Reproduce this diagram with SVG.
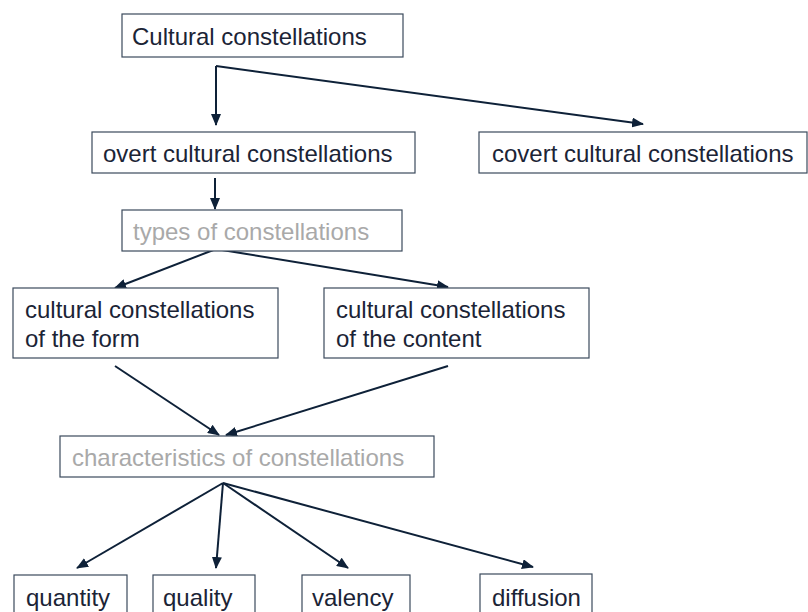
<svg xmlns="http://www.w3.org/2000/svg" width="808" height="612" viewBox="0 0 808 612">
<style>
.box{fill:#ffffff;stroke:#3b4a5c;stroke-width:1.2}
.t{font-family:"Liberation Sans",Arial,sans-serif;font-size:24px;fill:#1b2436}
.g{fill:#a9a9a9}
.c{stroke:#0e2138;stroke-width:2;fill:none;marker-end:url(#ah)}
</style>
<defs>
<marker id="ah" markerUnits="userSpaceOnUse" markerWidth="12" markerHeight="10" refX="11" refY="5" orient="auto">
<path d="M0,0 L12,5 L0,10 z" fill="#0e2138"/>
</marker>
</defs>
<rect width="808" height="612" fill="#ffffff"/>
<g id="connectors">
<line class="c" x1="216" y1="66" x2="216" y2="125"/>
<line class="c" x1="216" y1="66" x2="643" y2="124"/>
<line class="c" x1="215" y1="178" x2="215" y2="209"/>
<line class="c" x1="216" y1="249" x2="115" y2="288"/>
<line class="c" x1="216" y1="249" x2="448" y2="287"/>
<line class="c" x1="115" y1="366" x2="219" y2="435"/>
<line class="c" x1="448" y1="366" x2="226" y2="435"/>
<line class="c" x1="223" y1="483" x2="77" y2="568"/>
<line class="c" x1="223" y1="483" x2="216" y2="568"/>
<line class="c" x1="223" y1="483" x2="348" y2="568"/>
<line class="c" x1="223" y1="483" x2="533" y2="567"/>
</g>
<g id="cultural">
<rect class="box" x="122" y="14" width="281" height="43"/>
<text class="t" x="132" y="45">Cultural constellations</text>
</g>
<g id="overt">
<rect class="box" x="92" y="132" width="323" height="41"/>
<text class="t" x="103" y="162">overt cultural constellations</text>
</g>
<g id="covert">
<rect class="box" x="479" y="132" width="328" height="41"/>
<text class="t" x="492" y="162">covert cultural constellations</text>
</g>
<g id="types">
<rect class="box" x="122" y="210" width="280" height="41"/>
<text class="t g" x="133" y="240">types of constellations</text>
</g>
<g id="form">
<rect class="box" x="13" y="288" width="265" height="70"/>
<text class="t" x="25" y="318">cultural constellations</text>
<text class="t" x="25" y="347">of the form</text>
</g>
<g id="content">
<rect class="box" x="324" y="288" width="265" height="70"/>
<text class="t" x="336" y="318">cultural constellations</text>
<text class="t" x="336" y="347">of the content</text>
</g>
<g id="characteristics">
<rect class="box" x="60" y="436" width="374" height="41"/>
<text class="t g" x="72" y="466">characteristics of constellations</text>
</g>
<g id="quantity">
<rect class="box" x="14" y="575" width="113" height="50"/>
<text class="t" x="26" y="606">quantity</text>
</g>
<g id="quality">
<rect class="box" x="153" y="575" width="102" height="50"/>
<text class="t" x="163" y="606">quality</text>
</g>
<g id="valency">
<rect class="box" x="302" y="575" width="108" height="50"/>
<text class="t" x="312" y="606">valency</text>
</g>
<g id="diffusion">
<rect class="box" x="480" y="574" width="112" height="50"/>
<text class="t" x="492" y="606">diffusion</text>
</g>
</svg>
